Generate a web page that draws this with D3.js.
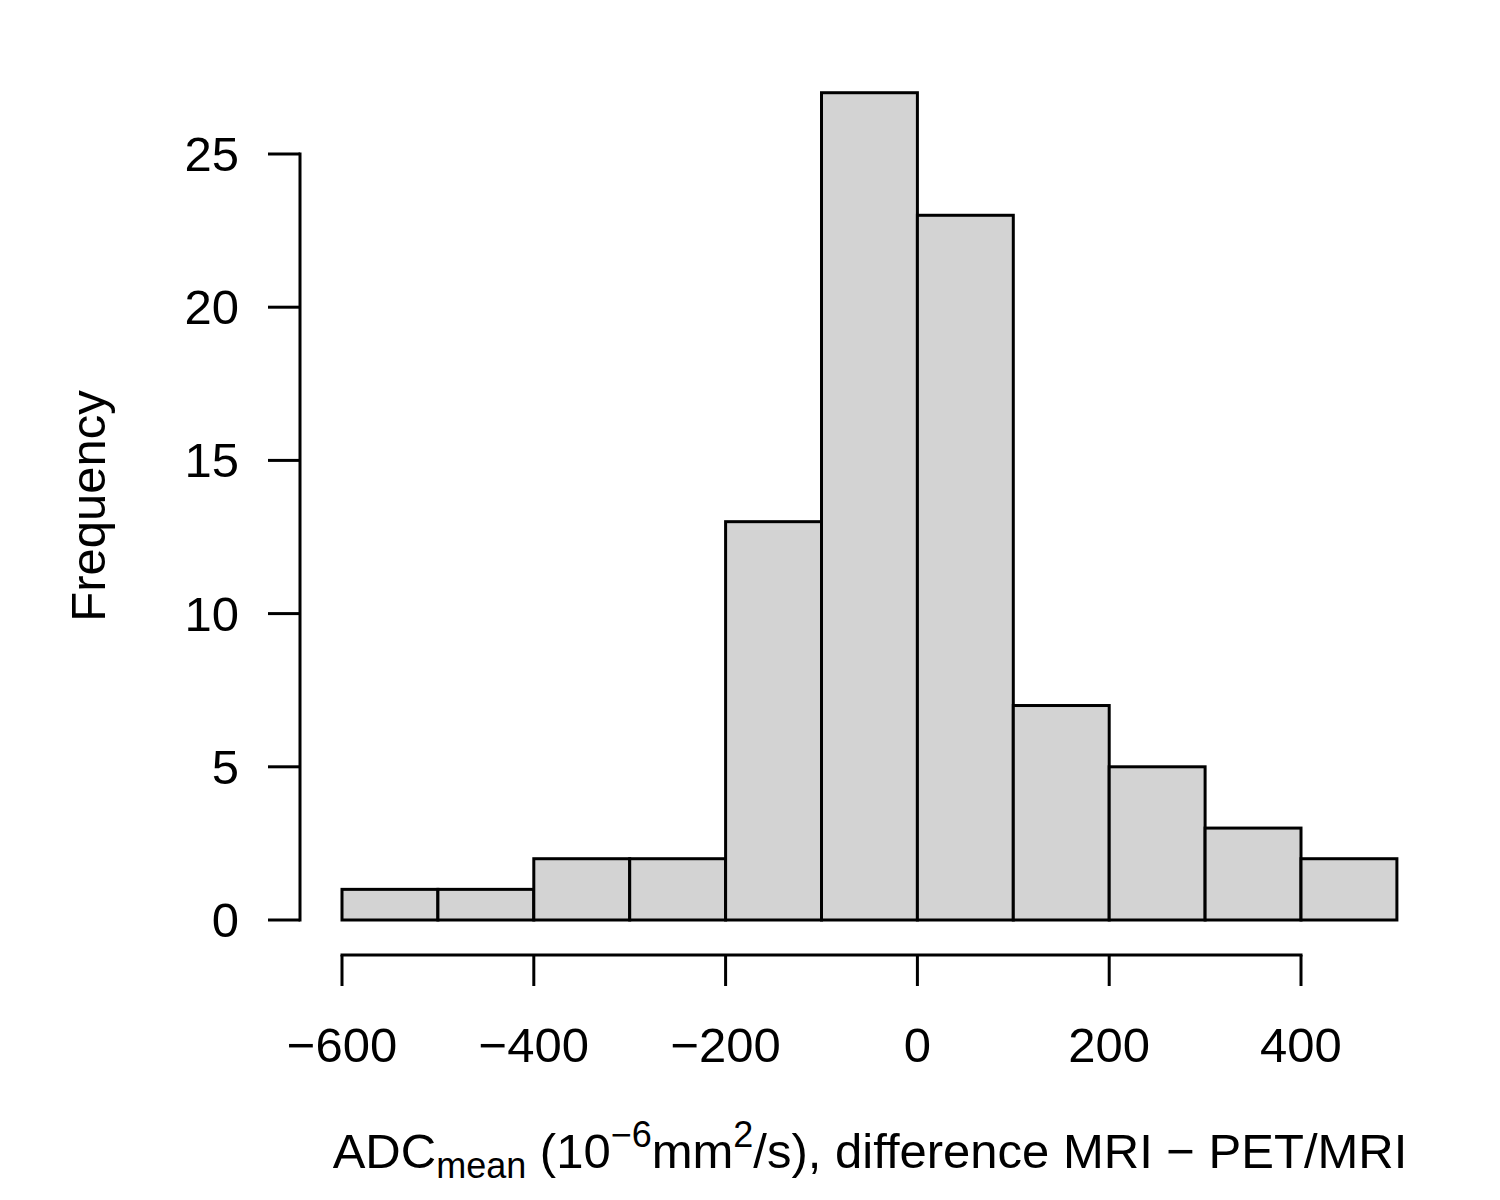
<!DOCTYPE html>
<html><head><meta charset="utf-8">
<script src="https://cdn.jsdelivr.net/npm/d3@7"></script>
<style>body{margin:0;background:#fff}svg{display:block}text{font-family:"Liberation Sans",Arial,Helvetica,sans-serif;fill:#000}</style>
</head><body>
<svg id="c" width="1500" height="1200"></svg>
<script>
const binStarts = [-600,-500,-400,-300,-200,-100,0,100,200,300,400];
const binWidth = 100;
const counts = [1,1,2,2,13,27,23,7,5,3,2];
const xTicks = [-600,-400,-200,0,200,400];
const yTicks = [0,5,10,15,20,25];

const svg = d3.select("#c");
const x = d3.scaleLinear().domain([-600,400]).range([342,1301]);
const y = d3.scaleLinear().domain([0,25]).range([920,154]);
const fs = 49;

svg.append("g").selectAll("rect").data(binStarts).join("rect")
  .attr("x", d => x(d)).attr("width", d => x(d+binWidth)-x(d))
  .attr("y", (d,i) => y(counts[i])).attr("height", (d,i) => y(0)-y(counts[i]))
  .attr("fill","#d3d3d3").attr("stroke","#000").attr("stroke-width",3);

// y axis
const ya = svg.append("g");
ya.append("line").attr("x1",300).attr("x2",300).attr("y1",y(0)).attr("y2",y(25)).attr("stroke","#000").attr("stroke-width",3).attr("stroke-linecap","square");
ya.selectAll("line.t").data(yTicks).join("line").attr("class","t")
  .attr("x1",268).attr("x2",300).attr("y1",d=>y(d)).attr("y2",d=>y(d)).attr("stroke","#000").attr("stroke-width",3);
ya.selectAll("text").data(yTicks).join("text")
  .attr("x",239).attr("y",d=>y(d)+17).attr("text-anchor","end").attr("font-size",fs).text(d=>d);

// x axis
const xa = svg.append("g");
xa.append("line").attr("x1",x(-600)).attr("x2",x(400)).attr("y1",955).attr("y2",955).attr("stroke","#000").attr("stroke-width",3).attr("stroke-linecap","square");
xa.selectAll("line.t").data(xTicks).join("line").attr("class","t")
  .attr("x1",d=>x(d)).attr("x2",d=>x(d)).attr("y1",955).attr("y2",986).attr("stroke","#000").attr("stroke-width",3);
xa.selectAll("text").data(xTicks).join("text")
  .attr("x",d=>x(d)).attr("y",1062).attr("text-anchor","middle").attr("font-size",fs)
  .text(d => d < 0 ? "\u2212" + Math.abs(d) : d);

// y label
svg.append("text").attr("transform","translate(105,506) rotate(-90)").attr("text-anchor","middle").attr("font-size",fs).text("Frequency");

// x label
const t = svg.append("text").attr("x",870).attr("y",1168).attr("text-anchor","middle").attr("font-size",fs);
t.append("tspan").text("ADC");
t.append("tspan").attr("font-size",36).attr("dy",10).text("mean");
t.append("tspan").attr("dy",-10).text(" (10");
t.append("tspan").attr("font-size",36).attr("dy",-21).text("\u22126");
t.append("tspan").attr("dy",21).text("mm");
t.append("tspan").attr("font-size",36).attr("dy",-21).text("2");
t.append("tspan").attr("dy",21).text("/s), difference MRI \u2212 PET/MRI");
</script>
</body></html>
